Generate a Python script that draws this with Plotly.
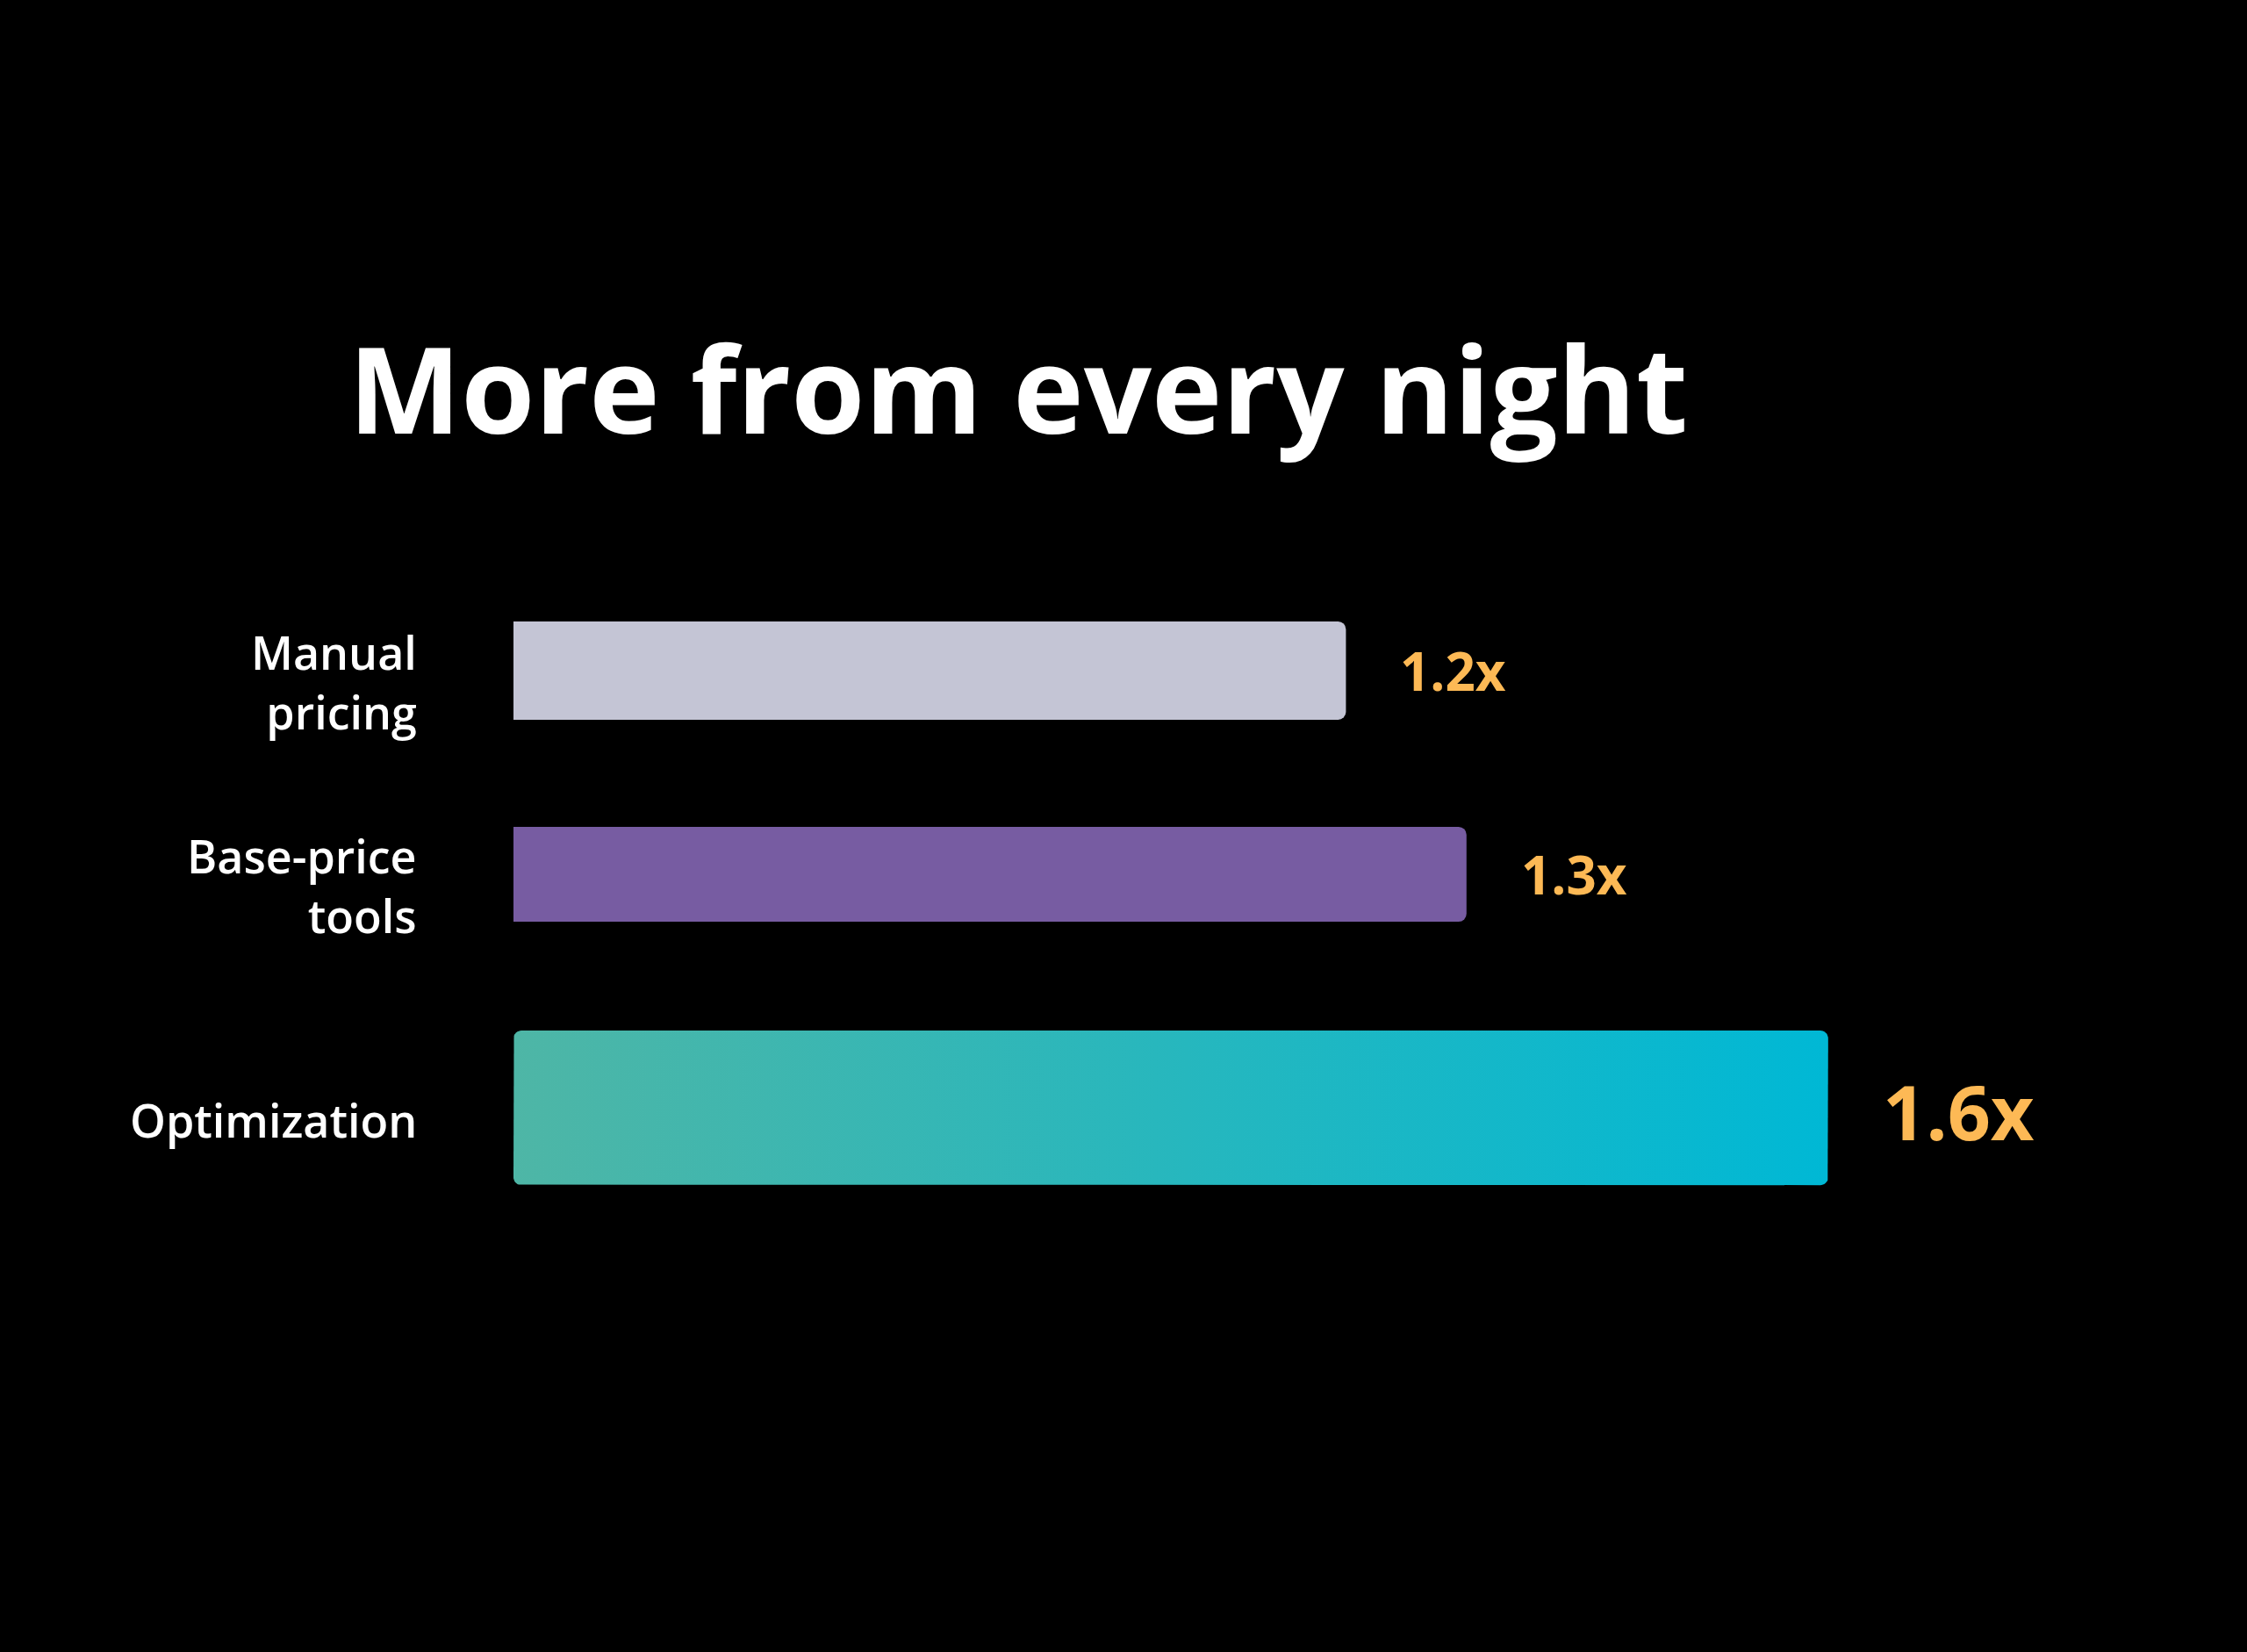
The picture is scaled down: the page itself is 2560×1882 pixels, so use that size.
import numpy as np
import plotly.graph_objects as go

# ---- data ----
categories = ["Manual<br>pricing", "Base-price<br>tools", "Optimization"]
values = [1.2, 1.3, 1.6]
value_labels = ["1.2x", "1.3x", "1.6x"]
title_text = "More from every night"

# ---- layout / style constants ----
W, H = 2560, 1882
ML = 585
Y_POS = [0.0, 1.0, 2.147]          # vertical slot of each bar
BAR_W = [0.483, 0.466, 0.759]      # bar thickness in y units
X_RANGE = [0.5095, 1.9474]
Y_RANGE = [4.819, -3.293]
BAR_COLORS = ["#C4C5D5", "#775CA2", None]
GRAD = [[0, "#4EB6A6"], [1, "#00B8D5"]]
VALUE_FONT = [60, 60, 86]
LABEL_COLOR = "#FFFFFF"
VALUE_COLOR = "#FDB955"
FONT = "Open Sans"

fig = go.Figure()

# solid bars
for i in range(2):
    fig.add_trace(go.Bar(
        x=[values[i]], y=[Y_POS[i]], orientation="h", width=BAR_W[i],
        marker=dict(color=BAR_COLORS[i], cornerradius=9, line=dict(width=0)),
        hoverinfo="skip", showlegend=False))

# gradient bar (rounded rectangle polygon in data space)
def rounded_rect(x0, x1, yc, w, rpx=9):
    rx = rpx * (X_RANGE[1] - X_RANGE[0]) / (W - ML)
    ry = rpx * abs(Y_RANGE[0] - Y_RANGE[1]) / H
    y0, y1 = yc - w / 2, yc + w / 2
    xs, ys = [], []
    corners = [(x1 - rx, y0 + ry, -90, 0), (x1 - rx, y1 - ry, 0, 90),
               (x0 + rx, y1 - ry, 90, 180), (x0 + rx, y0 + ry, 180, 270)]
    for cx, cy, a0, a1 in corners:
        t = np.radians(np.linspace(a0, a1, 10))
        xs += list(cx + rx * np.cos(t))
        ys += list(cy + ry * np.sin(t))
    xs.append(xs[0]); ys.append(ys[0])
    return xs, ys

gx, gy = rounded_rect(X_RANGE[0], values[2], Y_POS[2], BAR_W[2])
fig.add_trace(go.Scatter(
    x=gx, y=gy, mode="lines", fill="toself", line=dict(width=0),
    fillgradient=dict(type="horizontal", colorscale=GRAD),
    hoverinfo="skip", showlegend=False))

# value labels
for i, v in enumerate(values):
    fig.add_annotation(x=v, y=Y_POS[i], xref="x", yref="y", text=value_labels[i],
                       showarrow=False, xanchor="left", yanchor="middle", xshift=60,
                       yshift=-3 if i == 2 else 0,
                       font=dict(family=FONT, size=VALUE_FONT[i], color=VALUE_COLOR, weight="bold"))

# category labels
for i, c in enumerate(categories):
    fig.add_annotation(x=X_RANGE[0], y=Y_POS[i], xref="x", yref="y", text=c,
                       showarrow=False, xanchor="right", yanchor="middle", xshift=-108,
                       yshift=-13, align="right",
                       font=dict(family=FONT, size=52, color=LABEL_COLOR, weight=600))

# title (paper x is relative to the plot area)
fig.add_annotation(x=(1160 - ML) / (W - ML), y=1 - 441 / H, xref="paper", yref="paper",
                   text=title_text, showarrow=False, xanchor="center", yanchor="middle",
                   font=dict(family=FONT, size=136, color="#FFFFFF", weight="bold"))

fig.update_layout(
    width=W, height=H, margin=dict(l=ML, r=0, t=0, b=0),
    paper_bgcolor="#000000", plot_bgcolor="#000000",
    xaxis=dict(range=X_RANGE, visible=False, fixedrange=True),
    yaxis=dict(range=Y_RANGE, visible=False, fixedrange=True),
    showlegend=False, barmode="overlay")

fig.write_html("out.html", config={"displayModeBar": False})
